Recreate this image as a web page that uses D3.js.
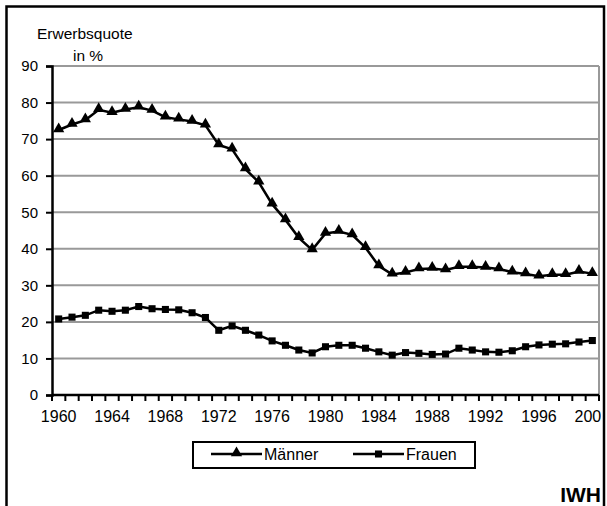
<!DOCTYPE html>
<html>
<head>
<meta charset="utf-8">
<script src="https://cdn.jsdelivr.net/npm/d3@7"></script>
<style>
  body { margin: 0; background: #fff; }
  svg { display: block; font-family: "Liberation Sans", Arial, sans-serif; }
</style>
</head>
<body>
<div id="chart"></div>
<script>
// Jahre 1960 - 2000
const years = d3.range(1960, 2001);

// Erwerbsquote in %
const maenner = [72.5, 74.0, 75.2, 78.0, 77.2, 78.1, 78.7, 77.8, 76.0, 75.4,
                 74.8, 73.8, 68.4, 67.2, 61.8, 58.2, 52.2, 47.9, 43.0, 39.7,
                 44.2, 44.7, 43.8, 40.3, 35.3, 33.0, 33.5, 34.5, 34.6, 34.2,
                 35.1, 35.1, 34.9, 34.5, 33.6, 33.1, 32.5, 32.9, 32.9, 33.8, 33.2];
const frauen = [20.8, 21.3, 21.8, 23.2, 22.9, 23.2, 24.2, 23.6, 23.4, 23.3,
                22.5, 21.2, 17.7, 18.9, 17.7, 16.4, 14.8, 13.6, 12.3, 11.5,
                13.2, 13.6, 13.6, 12.8, 11.8, 10.9, 11.6, 11.4, 11.1, 11.2,
                12.8, 12.3, 11.8, 11.7, 12.1, 13.2, 13.7, 13.9, 14.0, 14.5, 14.9];
const yTicks = [0, 10, 20, 30, 40, 50, 60, 70, 80, 90];
const xLabelYears = [1960, 1964, 1968, 1972, 1976, 1980, 1984, 1988, 1992, 1996, 2000];

const width = 607, height = 506;
const plot = { left: 52, right: 599, top: 66, bottom: 395 };

const svg = d3.select("#chart").append("svg")
    .attr("width", width)
    .attr("height", height);

// clip for the chart area (the "2000" label runs into the frame on the right)
svg.append("defs").append("clipPath")
    .attr("id", "chartClip")
    .append("rect")
    .attr("x", 0).attr("y", 0)
    .attr("width", 601).attr("height", height);

const x = d3.scaleBand()
    .domain(years)
    .range([plot.left, plot.right])
    .padding(0);

const y = d3.scaleLinear()
    .domain([0, 90])
    .range([plot.bottom, plot.top]);

const cx = (yr) => x(yr) + x.bandwidth() / 2;

// gridlines
svg.append("g")
    .selectAll("line")
    .data(yTicks.filter(d => d > 0))
    .enter().append("line")
    .attr("x1", plot.left).attr("x2", plot.right)
    .attr("y1", d => y(d)).attr("y2", d => y(d))
    .attr("stroke", "#999")
    .attr("stroke-width", 2);

// plot area right border
svg.append("line")
    .attr("x1", plot.right).attr("x2", plot.right)
    .attr("y1", plot.top).attr("y2", plot.bottom)
    .attr("stroke", "#999")
    .attr("stroke-width", 2);

// y axis
const yAxis = d3.axisLeft(y)
    .tickValues(yTicks)
    .tickSize(6)
    .tickPadding(8);

svg.append("g")
    .attr("transform", `translate(${plot.left},0)`)
    .call(yAxis)
    .call(g => g.select(".domain").attr("stroke", "#000").attr("stroke-width", 2.5))
    .call(g => g.selectAll(".tick line").attr("stroke", "#000").attr("stroke-width", 2))
    .call(g => g.selectAll(".tick text")
        .attr("fill", "#000")
        .style("font-size", "15px")
        .style("font-family", "'Liberation Sans', Arial, sans-serif"));

// x axis: ticks between categories, labels every 4 years
const xAxisG = svg.append("g").attr("clip-path", "url(#chartClip)");

xAxisG.append("line")
    .attr("x1", plot.left).attr("x2", plot.right)
    .attr("y1", plot.bottom).attr("y2", plot.bottom)
    .attr("stroke", "#000")
    .attr("stroke-width", 2.5);

xAxisG.selectAll(".xtick")
    .data(years.concat([2001]))
    .enter().append("line")
    .attr("class", "xtick")
    .attr("x1", d => d === 2001 ? plot.right : x(d))
    .attr("x2", d => d === 2001 ? plot.right : x(d))
    .attr("y1", plot.bottom).attr("y2", plot.bottom + 6)
    .attr("stroke", "#000")
    .attr("stroke-width", 2);

xAxisG.selectAll(".xlabel")
    .data(xLabelYears)
    .enter().append("text")
    .attr("class", "xlabel")
    .attr("x", d => cx(d))
    .attr("y", plot.bottom + 27)
    .attr("text-anchor", "middle")
    .style("font-size", "16px")
    .text(d => d);

// lines
const line = d3.line()
    .x((d, i) => cx(years[i]))
    .y(d => y(d));

svg.append("path")
    .datum(maenner)
    .attr("d", line)
    .attr("fill", "none")
    .attr("stroke", "#000")
    .attr("stroke-width", 2.5);

svg.append("path")
    .datum(frauen)
    .attr("d", line)
    .attr("fill", "none")
    .attr("stroke", "#000")
    .attr("stroke-width", 2.5);

const triangle = d3.symbol().type(d3.symbolTriangle).size(55);
const square = d3.symbol().type(d3.symbolSquare).size(50);

svg.append("g")
    .selectAll("path")
    .data(maenner)
    .enter().append("path")
    .attr("d", triangle)
    .attr("transform", (d, i) => `translate(${cx(years[i])},${y(d) - 1})`)
    .attr("fill", "#000");

svg.append("g")
    .selectAll("path")
    .data(frauen)
    .enter().append("path")
    .attr("d", square)
    .attr("transform", (d, i) => `translate(${cx(years[i])},${y(d)})`)
    .attr("fill", "#000");

// axis title
svg.append("text")
    .attr("x", 37).attr("y", 39)
    .style("font-size", "15.5px")
    .text("Erwerbsquote");

svg.append("text")
    .attr("x", 73).attr("y", 61)
    .style("font-size", "15.5px")
    .text("in %");

// legend
const legend = svg.append("g");

legend.append("rect")
    .attr("x", 193).attr("y", 442)
    .attr("width", 282).attr("height", 26)
    .attr("fill", "#fff")
    .attr("stroke", "#000")
    .attr("stroke-width", 2);

const legendItems = [
    { name: "Männer", symbol: triangle, x0: 211 },
    { name: "Frauen", symbol: square, x0: 353 }
];

legendItems.forEach((item) => {
    legend.append("line")
        .attr("x1", item.x0).attr("x2", item.x0 + 51)
        .attr("y1", 454).attr("y2", 454)
        .attr("stroke", "#000")
        .attr("stroke-width", 2.5);
    legend.append("path")
        .attr("d", item.symbol)
        .attr("transform", `translate(${item.x0 + 25.5},${item.symbol === triangle ? 453 : 454})`)
        .attr("fill", "#000");
    legend.append("text")
        .attr("x", item.x0 + 53).attr("y", 460)
        .style("font-size", "16px")
        .text(item.name);
});

// IWH mark
svg.append("text")
    .attr("x", 601).attr("y", 502)
    .attr("text-anchor", "end")
    .style("font-size", "21px")
    .style("font-weight", "bold")
    .text("IWH");

// outer frame
svg.append("rect")
    .attr("x", 6.5).attr("y", 6.5)
    .attr("width", 597.5).attr("height", 520)
    .attr("fill", "none")
    .attr("stroke", "#000")
    .attr("stroke-width", 2.5);
</script>
</body>
</html>
